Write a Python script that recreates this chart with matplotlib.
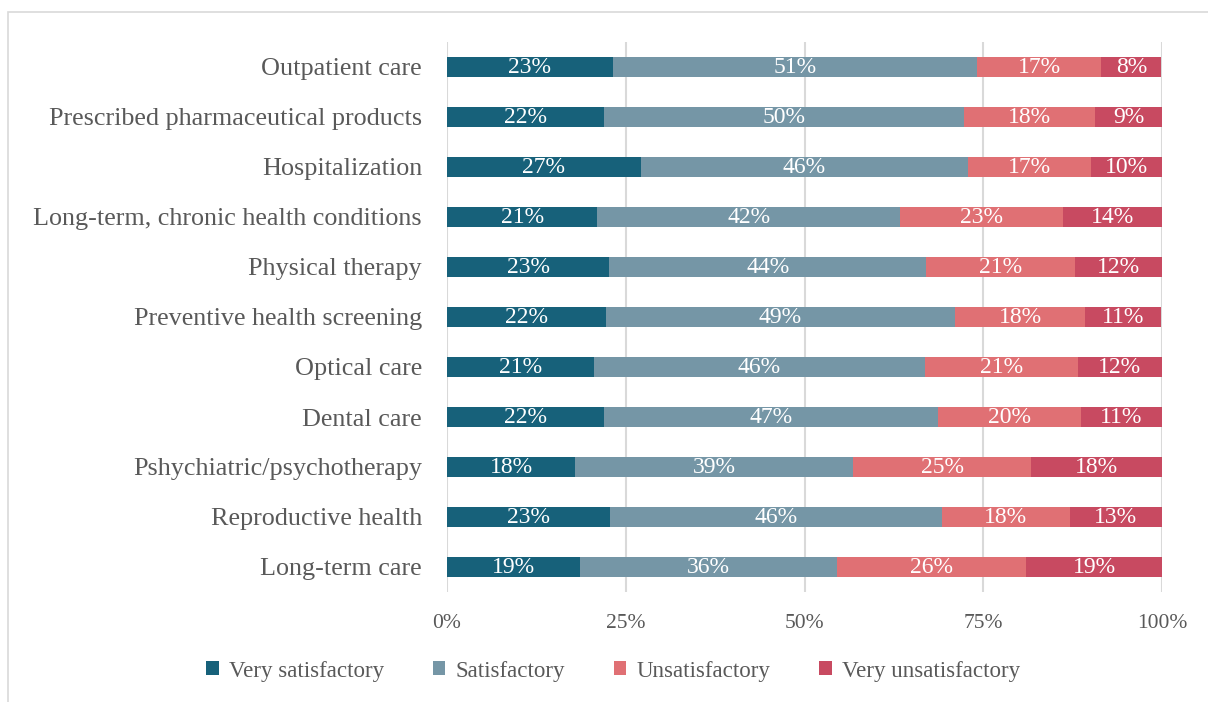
import matplotlib.pyplot as plt
from matplotlib.patches import Rectangle
import numpy as np

# Zufriedenheit mit Gesundheitsleistungen, Anteile in Prozent
kategorien = ["Outpatient care", "Prescribed pharmaceutical products", "Hospitalization",
              "Long-term, chronic health conditions", "Physical therapy",
              "Preventive health screening", "Optical care", "Dental care",
              "Pshychiatric/psychotherapy", "Reproductive health", "Long-term care"]
sehr_zufrieden = [23.2, 22.0, 27.1, 21.0, 22.7, 22.2, 20.6, 22.0, 17.9, 22.8, 18.6]
zufrieden = [50.9, 50.3, 45.7, 42.4, 44.3, 48.8, 46.2, 46.7, 38.9, 46.4, 36.0]
unzufrieden = [17.4, 18.3, 17.2, 22.8, 20.8, 18.3, 21.4, 20.0, 24.9, 17.9, 26.4]
sehr_unzufrieden = [8.4, 9.4, 10.0, 13.8, 12.2, 10.6, 11.8, 11.3, 18.3, 12.9, 19.0]
serien = ["Very satisfactory", "Satisfactory", "Unsatisfactory", "Very unsatisfactory"]
farben = ["#17617a", "#7596a6", "#e07074", "#c84a61"]
xticks = [0, 25, 50, 75, 100]

plt.rcParams['font.family'] = 'serif'
plt.rcParams['font.serif'] = ['Liberation Serif', 'DejaVu Serif']
grau = "#595959"

fig = plt.figure(figsize=(12.08, 7.02), dpi=100)
fig.patches.append(Rectangle((8 / 1208, -0.01), 1.0, 1 - 12 / 702 + 0.01,
                             transform=fig.transFigure, fill=False,
                             edgecolor="#d9d9d9", linewidth=1.2))
ax = fig.add_axes([447 / 1208, 1 - 592 / 702, 715 / 1208, 550 / 702])

y = np.arange(len(kategorien))
links = np.zeros(len(kategorien))
for name, werte, farbe in zip(serien, [sehr_zufrieden, zufrieden, unzufrieden, sehr_unzufrieden], farben):
    werte = np.array(werte)
    bars = ax.barh(y, werte, left=links, height=0.4, color=farbe, label=name, zorder=3)
    for b, w in zip(bars, werte):
        ax.text(b.get_x() + w / 2, b.get_y() + b.get_height() / 2 + 0.01, "%.0f%%" % w,
                ha='center', va='center', color='white', fontsize=17, zorder=4)
    links += werte

ax.set_xlim(0, 100)
ax.set_ylim(len(kategorien) - 0.5, -0.5)
ax.set_yticks(y)
ax.set_yticklabels(kategorien, fontsize=18.8, color=grau)
ax.set_xticks(xticks)
ax.set_xticklabels(["%d%%" % t for t in xticks], fontsize=15.5, color=grau)
ax.tick_params(length=0, pad=18, axis='y')
ax.tick_params(length=0, pad=16, axis='x')
ax.xaxis.grid(True, color="#d9d9d9", linewidth=1.5, zorder=0)
for s in ax.spines.values():
    s.set_visible(False)

leg = fig.legend(loc='center', bbox_to_anchor=(613 / 1208, 1 - 671 / 702), ncol=4,
                 frameon=False, fontsize=16.6, handlelength=0.55, handleheight=0.55,
                 columnspacing=2.1, handletextpad=0.45)
for t in leg.get_texts():
    t.set_color(grau)

fig.savefig("out.png", dpi=100)
